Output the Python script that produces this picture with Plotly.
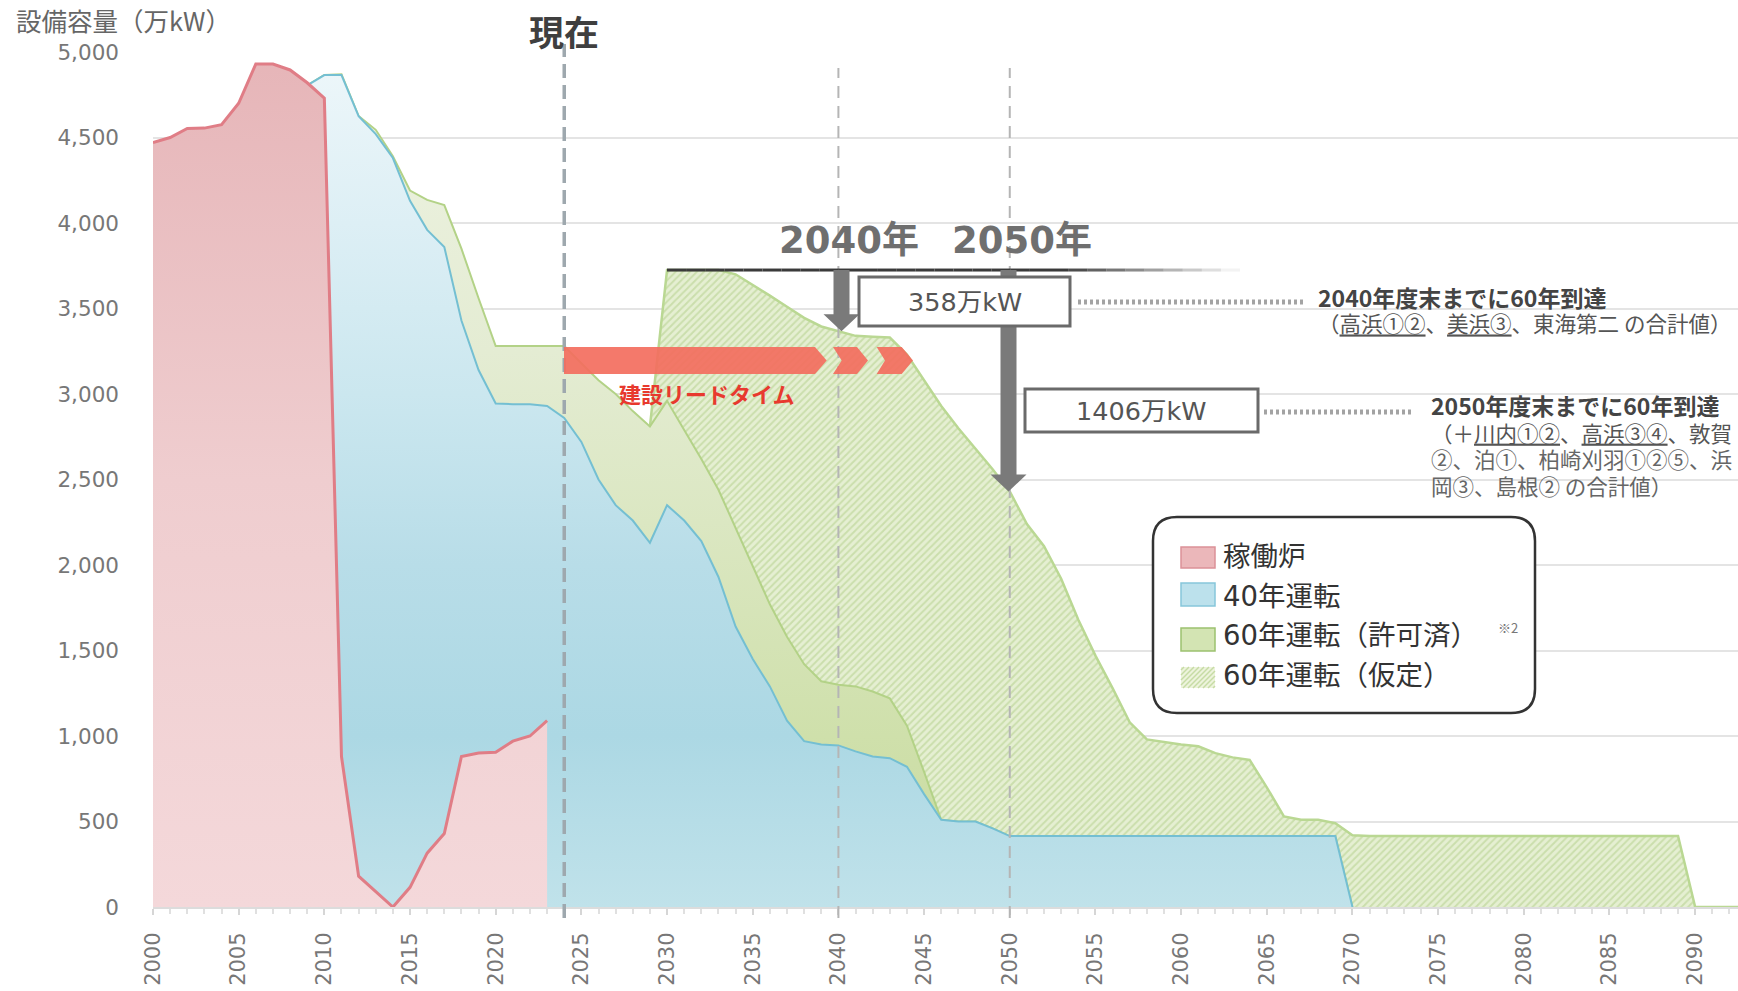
import plotly.graph_objects as go

# ---------------- data (万kW) ----------------
YEARS_OPERATING = list(range(2000, 2024))
OPERATING = [4470, 4500, 4553, 4555, 4575, 4700, 4930, 4930, 4895, 4820,
             4730, 880, 180, 90, 0, 115, 315, 430, 880, 900,
             905, 970, 1000, 1090]

YEARS_40 = list(range(2009, 2071))
RUN_40 = [4805, 4865, 4865, 4625, 4520, 4380, 4130, 3960, 3860, 3430,
          3140, 2945, 2940, 2940, 2930, 2860, 2720, 2500, 2350, 2260,
          2130, 2350, 2260, 2140, 1930, 1640, 1450, 1290, 1090, 970,
          950, 945, 910, 880, 870, 820, 660, 510, 500, 500,
          460, 415, 415, 415, 415, 415, 415, 415, 415, 415,
          415, 415, 415, 415, 415, 415, 415, 415, 415, 415,
          415, 0]

YEARS_60 = list(range(2009, 2071))
RUN_60_PERMITTED = [4805, 4865, 4870, 4625, 4545, 4390, 4190, 4135, 4105, 3850,
                    3560, 3280, 3280, 3280, 3280, 3280, 3180, 3080, 3000, 2900,
                    2810, 2960, 2790, 2620, 2440, 2220, 1990, 1770, 1580, 1420,
                    1320, 1300, 1290, 1260, 1220, 1060, 790, 510, 500, 500,
                    460, 415, 415, 415, 415, 415, 415, 415, 415, 415,
                    415, 415, 415, 415, 415, 415, 415, 415, 415, 415,
                    415, 0]

YEARS_60_ASSUMED = list(range(2029, 2094))
RUN_60_ASSUMED = [2810, 3725, 3725, 3725, 3725, 3700, 3640, 3575, 3510, 3445,
                  3395, 3367, 3340, 3335, 3330, 3230, 3080, 2930, 2800, 2680,
                  2560, 2430, 2240, 2110, 1920, 1680, 1470, 1280, 1080, 980,
                  965, 950, 940, 900, 875, 860, 700, 530, 510, 510,
                  490, 420, 415, 415, 415, 415, 415, 415, 415, 415,
                  415, 415, 415, 415, 415, 415, 415, 415, 415, 415,
                  415, 0, 0, 0, 0]

X_TICKS = list(range(2000, 2091, 5))
Y_TICKS = list(range(0, 5001, 500))

NOW_YEAR = 2024
MARK_YEARS = [2040, 2050]
GAP_LABELS = ["358万kW", "1406万kW"]

LEGEND_LABELS = ["稼働炉", "40年運転", "60年運転（許可済）", "60年運転（仮定）"]

NOTE_2040 = ["<b>2040年度末までに60年到達</b>",
             "（<u>高浜①②</u>、<u>美浜③</u>、東海第二 の合計値）"]
NOTE_2050 = ["<b>2050年度末までに60年到達</b>",
             "（＋<u>川内①②</u>、<u>高浜③④</u>、敦賀",
             "②、泊①、柏崎刈羽①②⑤、浜",
             "岡③、島根② の合計値）"]

# ---------------- canvas geometry ----------------
W, H = 1738, 991
ML, MR, MT, MB = 153, 0, 52, 84
XR = (2000, 2092.5)
YR = (0, 5000)
PW = W - ML - MR
PH = H - MT - MB


def xd(px):
    return XR[0] + (px - ML) * (XR[1] - XR[0]) / PW


def yd(py):
    return YR[0] + (H - MB - py) * (YR[1] - YR[0]) / PH


def xp(px):
    return (px - ML) / PW


def yp(py):
    return (H - MB - py) / PH


JP = "Noto Sans CJK JP"
MIX = "DejaVu Sans, Noto Sans CJK JP"
NUM = "DejaVu Sans"

fig = go.Figure()

# 60年運転（仮定）: hatched, drawn at the back
fig.add_trace(go.Scatter(
    x=YEARS_60_ASSUMED, y=RUN_60_ASSUMED, mode="lines", fill="tozeroy",
    line=dict(color="#bad893", width=2.5),
    fillcolor="#e5efd2",
    fillpattern=dict(shape="/", bgcolor="#e5efd2", fgcolor="#b0ce86",
                     size=5, solidity=0.4),
    name=LEGEND_LABELS[3], showlegend=False, hoverinfo="skip"))

# 60年運転（許可済）
fig.add_trace(go.Scatter(
    x=YEARS_60, y=RUN_60_PERMITTED, mode="lines", fill="tozeroy",
    line=dict(color="#b3d287", width=2),
    fillgradient=dict(type="vertical", start=0, stop=5000,
                      colorscale=[[0, "#c8da9f"], [0.2, "#cfe0ab"],
                                  [0.45, "#dbe7c2"], [0.65, "#e4ecd3"],
                                  [1, "#eef3e3"]]),
    name=LEGEND_LABELS[2], showlegend=False, hoverinfo="skip"))

# 40年運転
fig.add_trace(go.Scatter(
    x=YEARS_40, y=RUN_40, mode="lines", fill="tozeroy",
    line=dict(color="#74bfd2", width=2),
    fillgradient=dict(type="vertical", start=0, stop=5000,
                      colorscale=[[0, "#c0e2ea"], [0.2, "#acd8e4"],
                                  [0.4, "#b8dde8"], [0.6, "#cbe7ef"],
                                  [0.8, "#ddeff5"], [1, "#eef7fa"]]),
    name=LEGEND_LABELS[1], showlegend=False, hoverinfo="skip"))

# 稼働炉
fig.add_trace(go.Scatter(
    x=YEARS_OPERATING, y=OPERATING, mode="lines", fill="tozeroy",
    line=dict(color="#e07d86", width=3),
    fillgradient=dict(type="vertical", start=0, stop=5000,
                      colorscale=[[0, "#f4d8da"], [0.5, "#efcdcf"],
                                  [1, "#e6b5b8"]]),
    name=LEGEND_LABELS[0], showlegend=False, hoverinfo="skip"))

shapes = []

# vertical reference lines
shapes.append(dict(type="line", xref="x", yref="paper", x0=NOW_YEAR, x1=NOW_YEAR,
                   y0=yp(918), y1=yp(44), layer="above",
                   line=dict(color="#9ea8ae", width=3.5, dash="14px,7px")))
for yr in MARK_YEARS:
    shapes.append(dict(type="line", xref="x", yref="paper", x0=yr, x1=yr,
                       y0=yp(918), y1=yp(68), layer="above",
                       line=dict(color="#b5b5b5", width=2, dash="12px,8px")))

# construction lead-time band with chevrons
top_v, bot_v = yd(347), yd(374)
mid_v = (top_v + bot_v) / 2
band = (f"M {xd(564)},{top_v} L {xd(815)},{top_v} L {xd(826.7)},{mid_v} "
        f"L {xd(815)},{bot_v} L {xd(564)},{bot_v} Z")
shapes.append(dict(type="path", xref="x", yref="y", path=band, layer="above",
                   fillcolor="#f36e5e", opacity=0.92, line=dict(width=0)))
for back, notch, front, tip in [(833, 841.7, 857, 868), (876.7, 885, 901.7, 913)]:
    chev = (f"M {xd(back)},{top_v} L {xd(front)},{top_v} L {xd(tip)},{mid_v} "
            f"L {xd(front)},{bot_v} L {xd(back)},{bot_v} L {xd(notch)},{mid_v} Z")
    shapes.append(dict(type="path", xref="x", yref="y", path=chev, layer="above",
                       fillcolor="#f36e5e", opacity=0.92, line=dict(width=0)))

# horizontal reference line at the assumed-60-year peak, fading to the right
PEAK = max(RUN_60_ASSUMED)
fx0, fx_full, fx1 = 667, 1060, 1240
nseg = 30
for i in range(nseg):
    a = fx0 + (fx1 - fx0) * i / nseg
    b = fx0 + (fx1 - fx0) * (i + 1) / nseg
    m = (a + b) / 2
    op = 1.0 if m < fx_full else max(0.0, 1 - (m - fx_full) / (fx1 - fx_full))
    shapes.append(dict(type="line", xref="x", yref="y", x0=xd(a), x1=xd(b),
                       y0=PEAK, y1=PEAK, layer="above", opacity=op,
                       line=dict(color="#3a3a3a", width=3)))

# drop arrows from the peak to the 2040 / 2050 level
assumed = dict(zip(YEARS_60_ASSUMED, RUN_60_ASSUMED))
dx_per_px = (XR[1] - XR[0]) / PW
dy_per_px = (YR[1] - YR[0]) / PH


def down_arrow(cx_px, top_val, tip_val, shaft=8, head=18, head_len=17):
    cx = xd(cx_px)
    ws, wh, hl = shaft * dx_per_px, head * dx_per_px, head_len * dy_per_px
    return (f"M {cx - ws},{top_val} L {cx + ws},{top_val} L {cx + ws},{tip_val + hl} "
            f"L {cx + wh},{tip_val + hl} L {cx},{tip_val} L {cx - wh},{tip_val + hl} "
            f"L {cx - ws},{tip_val + hl} Z")


for cx_px, yr in [(841.5, MARK_YEARS[0]), (1008.5, MARK_YEARS[1])]:
    shapes.append(dict(type="path", xref="x", yref="y", layer="above",
                       path=down_arrow(cx_px, PEAK, assumed[yr]),
                       fillcolor="#7a7a7a", line=dict(width=0)))

# value boxes and dotted leaders
for (x0, x1, y0, y1) in [(859, 1070, 277, 326), (1025, 1258, 389, 432)]:
    shapes.append(dict(type="rect", xref="x", yref="y", layer="above",
                       x0=xd(x0), x1=xd(x1), y0=yd(y1), y1=yd(y0),
                       fillcolor="white", line=dict(color="#6a6a6a", width=3)))
for (x0, x1, yy) in [(1078, 1306, 302), (1264, 1414, 412)]:
    shapes.append(dict(type="line", xref="x", yref="y", layer="above",
                       x0=xd(x0), x1=xd(x1), y0=yd(yy), y1=yd(yy),
                       line=dict(color="#a3a3a3", width=5, dash="3px,3px")))

# legend frame (rounded)
Lx, Rx, Ty, By = xp(1153), xp(1535), yp(517), yp(713)
rx, ry = 24 / PW, 24 / PH
frame = (f"M {Lx + rx},{Ty} L {Rx - rx},{Ty} Q {Rx},{Ty} {Rx},{Ty - ry} "
         f"L {Rx},{By + ry} Q {Rx},{By} {Rx - rx},{By} L {Lx + rx},{By} "
         f"Q {Lx},{By} {Lx},{By + ry} L {Lx},{Ty - ry} Q {Lx},{Ty} {Lx + rx},{Ty} Z")
shapes.append(dict(type="path", xref="paper", yref="paper", path=frame, layer="above",
                   fillcolor="white", line=dict(color="#333333", width=2.5)))

# legend swatches
sw_x0, sw_x1 = 1181, 1215
sw_rows = [(547, 568), (583, 606), (628, 651), (667, 688)]
sw_styles = [("#ebb7ba", "#dc9198"), ("#bce1ec", "#86c6da"), ("#d3e4b3", "#9cc16f")]
for (ya, yb), (fc, lc) in zip(sw_rows[:3], sw_styles):
    shapes.append(dict(type="rect", xref="paper", yref="paper", layer="above",
                       x0=xp(sw_x0), x1=xp(sw_x1), y0=yp(yb), y1=yp(ya),
                       fillcolor=fc, line=dict(color=lc, width=1.5)))
ya, yb = sw_rows[3]
shapes.append(dict(type="rect", xref="paper", yref="paper", layer="above",
                   x0=xp(sw_x0), x1=xp(sw_x1), y0=yp(yb), y1=yp(ya),
                   fillcolor="#edf3dc", line=dict(width=0)))
sw_w, sw_h = sw_x1 - sw_x0, yb - ya
for c in range(-sw_h + 3, sw_w, 5):
    # segment of x - y' = c inside the swatch (y' measured upward from bottom)
    p0x, p0y = max(c, 0), max(-c, 0)
    p1x = min(sw_w, sw_h + c)
    p1y = p1x - c
    if p1x <= p0x:
        continue
    shapes.append(dict(type="line", xref="paper", yref="paper", layer="above",
                       x0=xp(sw_x0 + p0x), y0=yp(yb - p0y),
                       x1=xp(sw_x0 + p1x), y1=yp(yb - p1y),
                       line=dict(color="#c6dca4", width=1.5)))

annotations = []


def note(text, px, py, size, color, xanchor="center", yanchor="middle",
         bold=False, family=JP):
    annotations.append(dict(
        text=text, xref="paper", yref="paper", x=xp(px), y=yp(py),
        xanchor=xanchor, yanchor=yanchor, showarrow=False, align="left",
        font=dict(family=family, size=size, color=color,
                  weight="bold" if bold else "normal")))


def block(lines, sizes, colors):
    # several lines in one text; line pitch follows the base font size
    return "<br>".join(f'<span style="font-size:{s}px;color:{c}">{t}</span>'
                       for t, s, c in zip(lines, sizes, colors))


note("設備容量（万kW）", 14, 20, 25.5, "#666666", xanchor="left")
note("現在", 564, 31, 35, "#3f3f3f", bold=True)
note(f"{MARK_YEARS[0]}年", 849, 240, 37, "#6f6f6f", bold=True, family=MIX)
note(f"{MARK_YEARS[1]}年", 1022, 240, 37, "#6f6f6f", bold=True, family=MIX)
note(GAP_LABELS[0], 964.5, 302, 25.5, "#555555", family=MIX)
note(GAP_LABELS[1], 1141, 411, 25.5, "#555555", family=MIX)
note("建設リードタイム", 707, 393, 22, "#e8392e", bold=True)

note(block(NOTE_2040, [23, 21.5], ["#444444", "#555555"]),
     1316, 309, 19.6, "#555555", xanchor="left")
note(block(NOTE_2050, [23, 21.5, 21.5, 21.5],
           ["#444444", "#555555", "#666666", "#666666"]),
     1429, 444, 20.5, "#555555", xanchor="left")

note(block(LEGEND_LABELS, [27.5] * 4, ["#333333"] * 4),
     1221, 615, 30.5, "#333333", xanchor="left", family=MIX)
note("※2", 1496, 627, 13, "#777777", xanchor="left")

fig.update_layout(
    width=W, height=H,
    margin=dict(l=ML, r=MR, t=MT, b=MB, pad=0),
    paper_bgcolor="white", plot_bgcolor="white",
    showlegend=False, hovermode=False,
    shapes=shapes, annotations=annotations,
    xaxis=dict(range=list(XR), tickmode="array", tickvals=X_TICKS,
               ticktext=[str(v) for v in X_TICKS], tickangle=-90,
               tickfont=dict(family=NUM, size=21, color="#777777"),
               ticks="outside", ticklen=6, tickcolor="#d6d6d6", tickwidth=1.5,
               minor=dict(dtick=1, tick0=2000, ticks="outside", ticklen=5,
                          tickcolor="#e0e0e0", showgrid=False),
               ticklabelstandoff=9,
               showline=True, linecolor="#dcdcdc", linewidth=2,
               showgrid=False, zeroline=False, fixedrange=True),
    yaxis=dict(range=list(YR), tickmode="array", tickvals=Y_TICKS,
               ticktext=[f"{v:,}" for v in Y_TICKS],
               tickfont=dict(family=NUM, size=21.5, color="#777777"),
               ticks="", ticklabelstandoff=33,
               showgrid=True, gridcolor="#e4e4e4", gridwidth=2,
               showline=False, zeroline=False, fixedrange=True),
)

fig.write_html("out.html")
